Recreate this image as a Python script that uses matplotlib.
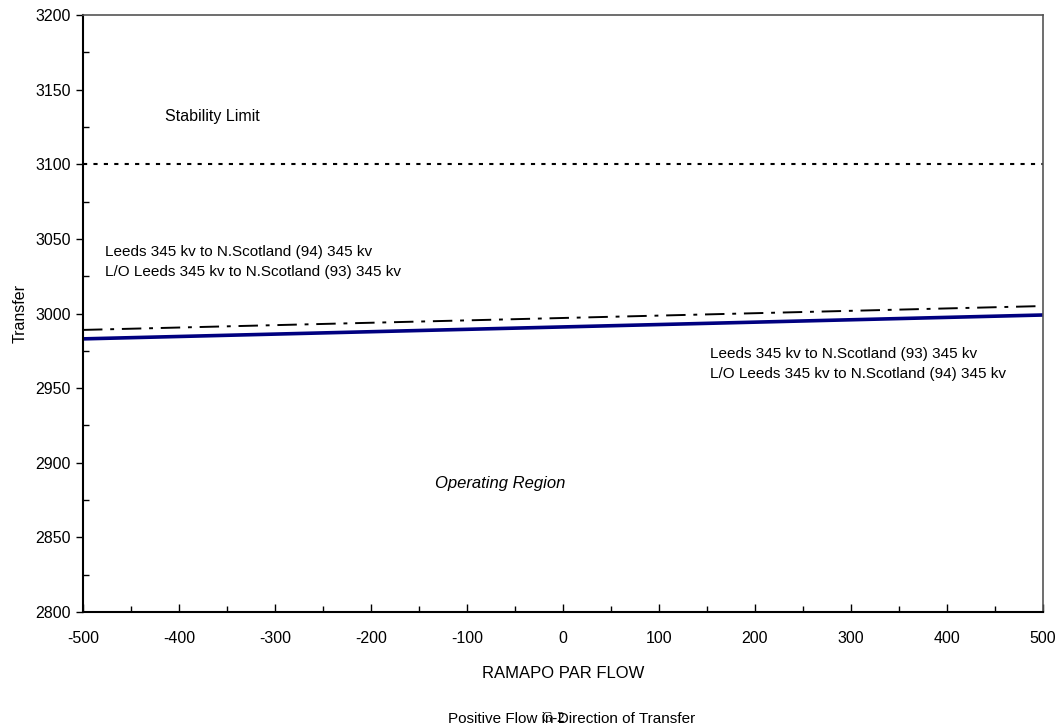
import numpy as np
import matplotlib
matplotlib.use("Agg")
import matplotlib.pyplot as plt
from matplotlib.ticker import MultipleLocator

plt.rcParams['font.family'] = ['Liberation Sans', 'DejaVu Sans']
plt.rcParams['axes.unicode_minus'] = False

# data
par_flow = [-500, -400, -300, -200, -100, 0, 100, 200, 300, 400, 500]
limit_93 = [2983, 2984.6, 2986.2, 2987.8, 2989.4, 2991, 2992.6, 2994.2, 2995.8, 2997.4, 2999]
limit_94 = [2989, 2990.6, 2992.2, 2993.8, 2995.4, 2997, 2998.6, 3000.2, 3001.8, 3003.4, 3005]
stability_limit = 3100

fig = plt.figure(figsize=(10.62, 7.27), dpi=100)
ax = fig.add_axes([83/1062, 1 - 612/727, 960/1062, 597/727])

ax.plot([-500, 500], [stability_limit, stability_limit], color='black',
        lw=1.5, linestyle=(0, (2, 3)))
ax.plot(par_flow, limit_94, color='black', lw=1.4,
        linestyle=(0, (10, 4, 2, 4)))
ax.plot(par_flow, limit_93, color='#000080', lw=2.6)

ax.set_xlim(-500, 500)
ax.set_ylim(2800, 3200)
ax.xaxis.set_major_locator(MultipleLocator(100))
ax.xaxis.set_minor_locator(MultipleLocator(50))
ax.yaxis.set_major_locator(MultipleLocator(50))
ax.yaxis.set_minor_locator(MultipleLocator(25))
ax.tick_params(labelsize=11.5, color='black')
ax.tick_params(axis='x', which='major', direction='in', length=6, width=1, pad=14)
ax.tick_params(axis='x', which='minor', direction='in', length=4, width=1)
ax.tick_params(axis='y', which='major', direction='out', length=5, width=1, pad=4)
ax.tick_params(axis='y', which='minor', direction='in', length=4, width=1)

for s in ['left', 'bottom']:
    ax.spines[s].set_linewidth(1.5)
    ax.spines[s].set_color('black')
for s in ['top', 'right']:
    ax.spines[s].set_linewidth(1.2)
    ax.spines[s].set_color('#555555')

ax.set_ylabel('Transfer', fontsize=11.5, labelpad=5)
ax.set_xlabel('RAMAPO PAR FLOW', fontsize=12, labelpad=14)

ax.text(-415, 3132, 'Stability Limit', fontsize=11.5, va='center')
ax.text(-477, 3041, 'Leeds 345 kv to N.Scotland (94) 345 kv', fontsize=11, va='center')
ax.text(-477, 3027.5, 'L/O Leeds 345 kv to N.Scotland (93) 345 kv', fontsize=11, va='center')
ax.text(153, 2973, 'Leeds 345 kv to N.Scotland (93) 345 kv', fontsize=11, va='center')
ax.text(153, 2959.5, 'L/O Leeds 345 kv to N.Scotland (94) 345 kv', fontsize=11, va='center')
ax.text(-133, 2886, 'Operating Region', fontsize=12, style='italic', va='center')

fig.text(572/1062, 1 - 719/727, 'Positive Flow in Direction of Transfer',
         fontsize=11, ha='center', va='center')
fig.text(553/1062, 1 - 725/727, 'G-2', fontsize=11, family='Liberation Serif',
         ha='center', va='bottom')

fig.savefig('out.png', dpi=100)
